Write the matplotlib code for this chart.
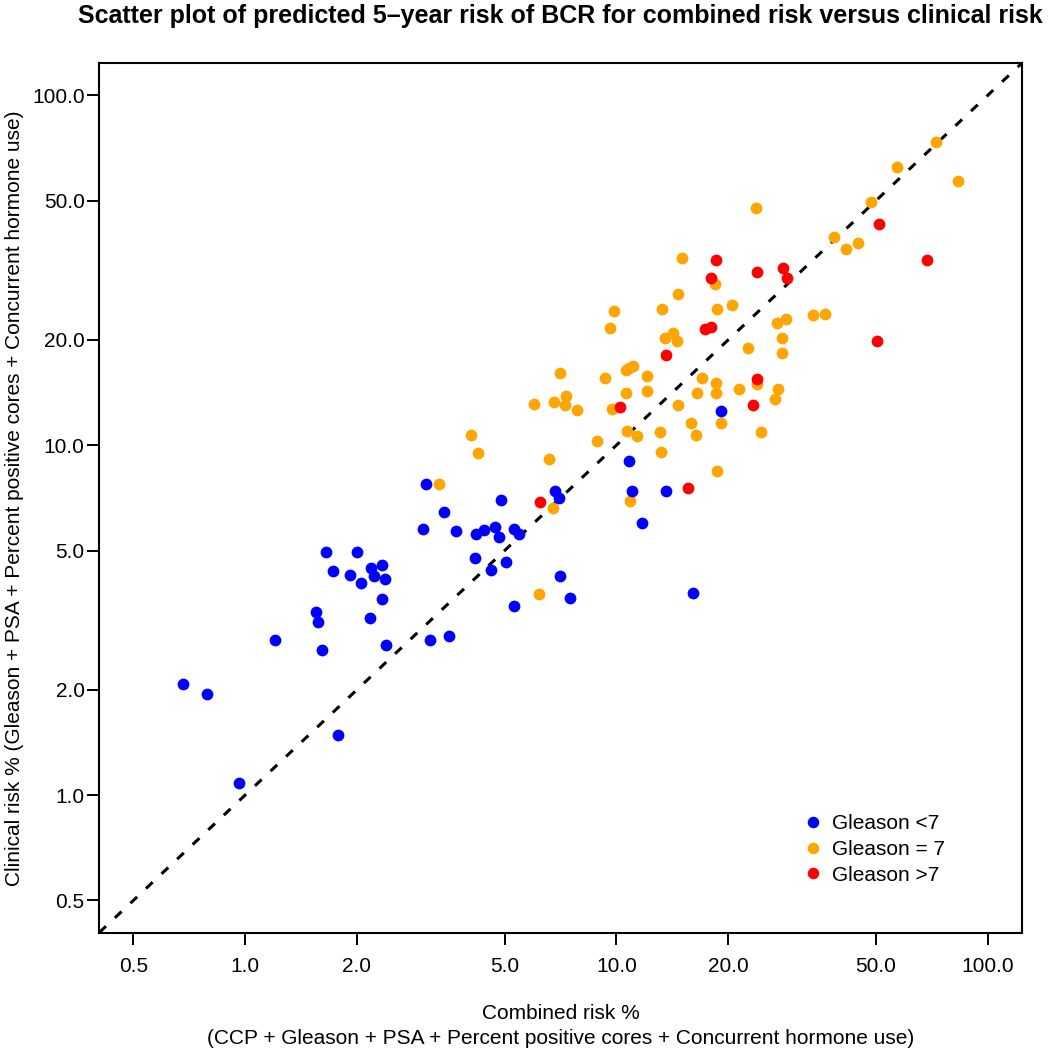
import matplotlib
matplotlib.use("Agg")
import math
import matplotlib.pyplot as plt
from matplotlib.lines import Line2D
from matplotlib.ticker import FixedLocator, FixedFormatter, NullLocator

plt.rcParams['font.family'] = ['Liberation Sans', 'DejaVu Sans']

# ---- data (combined risk %, clinical risk %) ----
blue_x = [1.65, 2.00, 1.72, 1.91, 2.05, 2.18, 2.34, 2.23, 2.38, 2.34, 1.55, 1.57,
          2.17, 1.20, 1.61, 2.40, 3.14, 3.53, 0.68, 0.79, 1.78, 0.96,
          3.07, 4.88, 3.44, 3.02, 3.69, 4.19, 4.41, 4.72, 4.82, 5.29, 5.48,
          4.17, 4.60, 5.05, 7.07, 5.29, 7.50, 6.82, 7.02,
          10.8, 11.0, 13.6, 11.7, 16.1, 19.1]
blue_y = [4.96, 4.96, 4.36, 4.25, 4.05, 4.46, 4.54, 4.22, 4.14, 3.64, 3.33, 3.13,
          3.21, 2.78, 2.59, 2.68, 2.77, 2.84, 2.08, 1.94, 1.48, 1.08,
          7.73, 6.97, 6.46, 5.77, 5.69, 5.59, 5.73, 5.85, 5.48, 5.77, 5.59,
          4.76, 4.41, 4.65, 4.24, 3.48, 3.66, 7.39, 7.05,
          9.00, 7.39, 7.38, 6.01, 3.79, 12.5]

orange_x = [4.05, 4.25, 3.32, 6.60, 6.74, 6.17, 8.87, 10.7, 11.4, 13.1, 13.2, 15.9,
            16.4, 10.9, 9.71, 18.7, 15.0, 14.7, 9.86, 9.62, 13.3, 18.7, 20.5, 18.4,
            13.5, 14.2, 14.6, 27.1, 28.7, 27.9, 28.0, 22.6, 7.05, 9.34, 10.6, 10.8,
            11.1, 12.1, 10.6, 12.1, 5.99, 6.81, 7.30, 7.26, 7.82, 14.7, 17.0, 18.5,
            16.5, 18.6, 21.4, 23.9, 27.3, 26.7, 19.1, 24.5, 23.8, 48.5, 83.1, 38.5,
            41.6, 44.9, 33.9, 36.5, 57.2, 72.6]
orange_y = [10.7, 9.53, 7.73, 9.11, 6.60, 3.76, 10.3, 11.0, 10.6, 10.9, 9.55, 11.6,
            10.7, 6.95, 12.7, 8.42, 34.2, 27.1, 24.2, 21.7, 24.5, 24.6, 25.1, 28.9,
            20.3, 20.9, 19.8, 22.3, 23.0, 20.2, 18.4, 19.0, 16.1, 15.6, 16.4, 16.6,
            16.9, 15.8, 14.1, 14.3, 13.1, 13.3, 13.8, 13.0, 12.6, 13.0, 15.6, 15.1,
            14.1, 14.1, 14.5, 15.0, 14.5, 13.6, 11.6, 10.9, 47.7, 49.6, 56.9, 39.4,
            36.4, 37.9, 23.6, 23.7, 62.3, 73.8]

red_x = [6.23, 15.6, 10.2, 13.6, 17.3, 18.0, 18.6, 18.0, 24.0, 28.1, 28.9, 23.9,
         23.3, 51.0, 68.6, 50.4]
red_y = [6.90, 7.54, 12.9, 18.1, 21.5, 21.8, 33.8, 30.1, 31.3, 32.2, 30.0, 15.5,
         13.0, 42.8, 33.8, 19.9]

tick_vals = [0.5, 1.0, 2.0, 5.0, 10.0, 20.0, 50.0, 100.0]
tick_labels = ["0.5", "1.0", "2.0", "5.0", "10.0", "20.0", "50.0", "100.0"]
legend_labels = ["Gleason <7", "Gleason = 7", "Gleason >7"]
colors = {"blue": "#0000FF", "orange": "#FFA500", "red": "#FF0000"}

title = "Scatter plot of predicted 5\u2013year risk of BCR for combined risk versus clinical risk"
xlabel = "Combined risk %\n(CCP + Gleason + PSA + Percent positive cores + Concurrent hormone use)"
ylabel = "Clinical risk % (Gleason + PSA + Percent positive cores + Concurrent hormone use)"

# ---- figure ----
W, H = 1048, 1050
fig = plt.figure(figsize=(W / 100, H / 100), dpi=100)
ax = fig.add_axes([99.3 / W, 1 - 932.5 / H, (1021.7 - 99.3) / W, (932.5 - 63.3) / H])
ax.set_xscale('log')
ax.set_yscale('log')

lo, hi = 0.5, 100.0
span = math.log10(hi) - math.log10(lo)
lim = (10 ** (math.log10(lo) - 0.04 * span), 10 ** (math.log10(hi) + 0.04 * span))
ax.set_xlim(lim)
ax.set_ylim(lim)

ax.plot([lim[0], lim[1]], [lim[0], lim[1]], color='black', lw=2.2,
        dashes=(3, 4), dash_capstyle='butt', zorder=1)

ms = 72
ax.scatter(orange_x, orange_y, s=ms, color=colors["orange"], linewidths=0, zorder=2)
ax.scatter(red_x, red_y, s=ms, color=colors["red"], linewidths=0, zorder=3)
ax.scatter(blue_x, blue_y, s=ms, color=colors["blue"], linewidths=0, zorder=4)

for axis in (ax.xaxis, ax.yaxis):
    axis.set_major_locator(FixedLocator(tick_vals))
    axis.set_major_formatter(FixedFormatter(tick_labels))
    axis.set_minor_locator(NullLocator())

ax.tick_params(axis='x', direction='out', length=8.5, width=1.4, labelsize=15, pad=9)
ax.tick_params(axis='y', direction='out', length=8.5, width=1.4, labelsize=15, pad=2)
for sp in ax.spines.values():
    sp.set_linewidth(1.5)

ax.set_xlabel(xlabel, fontsize=15, labelpad=20, linespacing=1.4)
ax.set_ylabel(ylabel, fontsize=15, labelpad=6)

fig.text(560.5 / W, 1 - 16 / H, title, ha='center', va='center',
         fontsize=18, fontweight='bold')

handles = [Line2D([], [], ls='none', marker='o', markersize=8.3,
                  markerfacecolor=c, markeredgewidth=0)
           for c in (colors["blue"], colors["orange"], colors["red"])]
ax.legend(handles, legend_labels, loc='upper left',
          bbox_to_anchor=(805 / W, 1 - 814 / H), bbox_transform=fig.transFigure,
          frameon=False, fontsize=15, handlelength=0.8, handletextpad=0.5,
          labelspacing=0.33, borderpad=0, borderaxespad=0)

fig.savefig("out.png", dpi=100)
